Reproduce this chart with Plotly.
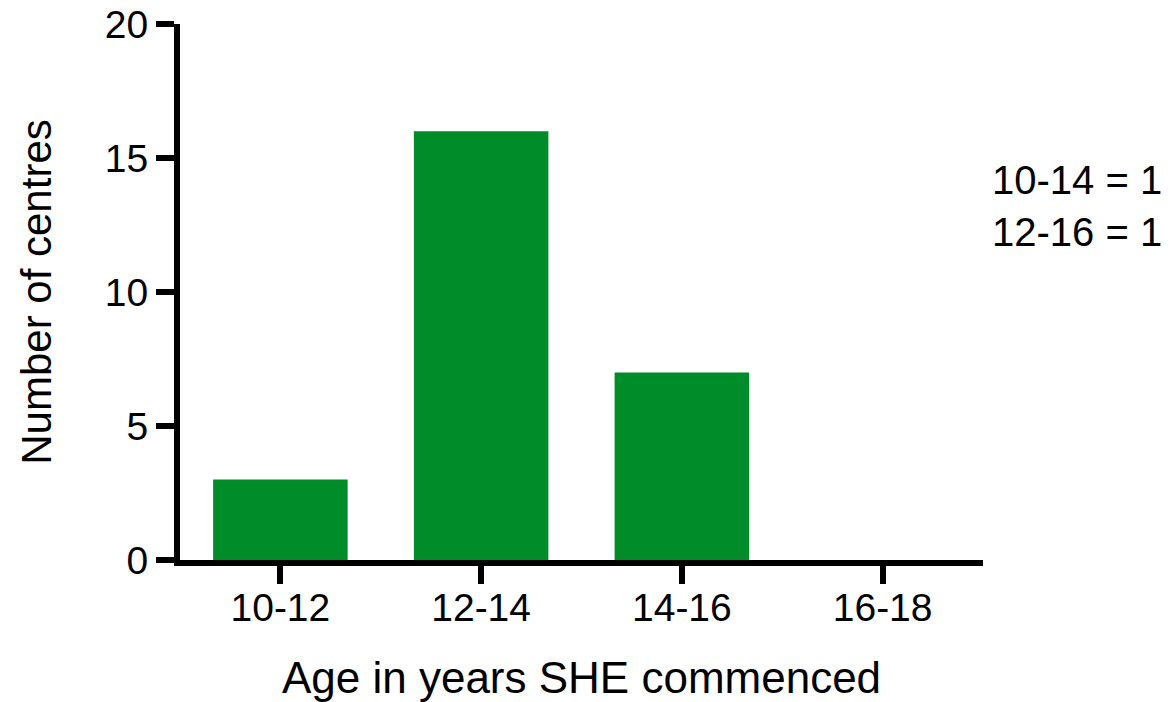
import plotly.graph_objects as go

categories = ["10-12", "12-14", "14-16", "16-18"]
centres = [3, 16, 7, 0]
y_ticks = [0, 5, 10, 15, 20]
note_lines = ["10-14 = 1", "12-16 = 1"]

FONT = "Liberation Sans, Arial, sans-serif"

fig = go.Figure(
    go.Bar(
        x=categories,
        y=centres,
        width=0.67,
        marker=dict(color="#008C28", line=dict(width=0)),
    )
)

fig.update_layout(
    width=1174,
    height=702,
    margin=dict(l=180, r=191, t=24, b=142, autoexpand=False),
    plot_bgcolor="white",
    paper_bgcolor="white",
    showlegend=False,
    font=dict(family=FONT, color="black"),
    xaxis=dict(
        type="category",
        range=[-0.5, 3.5],
        showline=True,
        linewidth=6,
        linecolor="black",
        ticks="outside",
        ticklen=18,
        tickwidth=6,
        tickcolor="black",
        tickfont=dict(size=39, family=FONT),
        ticklabelstandoff=-10,
        showgrid=False,
        zeroline=False,
        title=dict(text="Age in years SHE commenced", font=dict(size=44, family=FONT), standoff=36),
        automargin=False,
    ),
    yaxis=dict(
        range=[0, 20],
        tickvals=y_ticks,
        showline=True,
        linewidth=6,
        linecolor="black",
        ticks="outside",
        ticklen=18,
        tickwidth=6,
        tickcolor="black",
        tickfont=dict(size=39, family=FONT),
        ticklabeloverflow="allow",
        showgrid=False,
        zeroline=False,
        title=dict(text="Number of centres", font=dict(size=42, family=FONT), standoff=42),
        automargin=False,
    ),
    annotations=[
        dict(
            text="<br>".join(note_lines),
            xref="paper",
            yref="y",
            x=1.0087,
            y=13.2,
            xanchor="left",
            yanchor="middle",
            align="left",
            showarrow=False,
            font=dict(size=40, family=FONT, color="black"),
        )
    ],
)

fig.write_html(
    "out.html",
    config={"displayModeBar": False},
    post_script="document.body.style.margin='0';document.body.style.overflow='hidden';",
)
